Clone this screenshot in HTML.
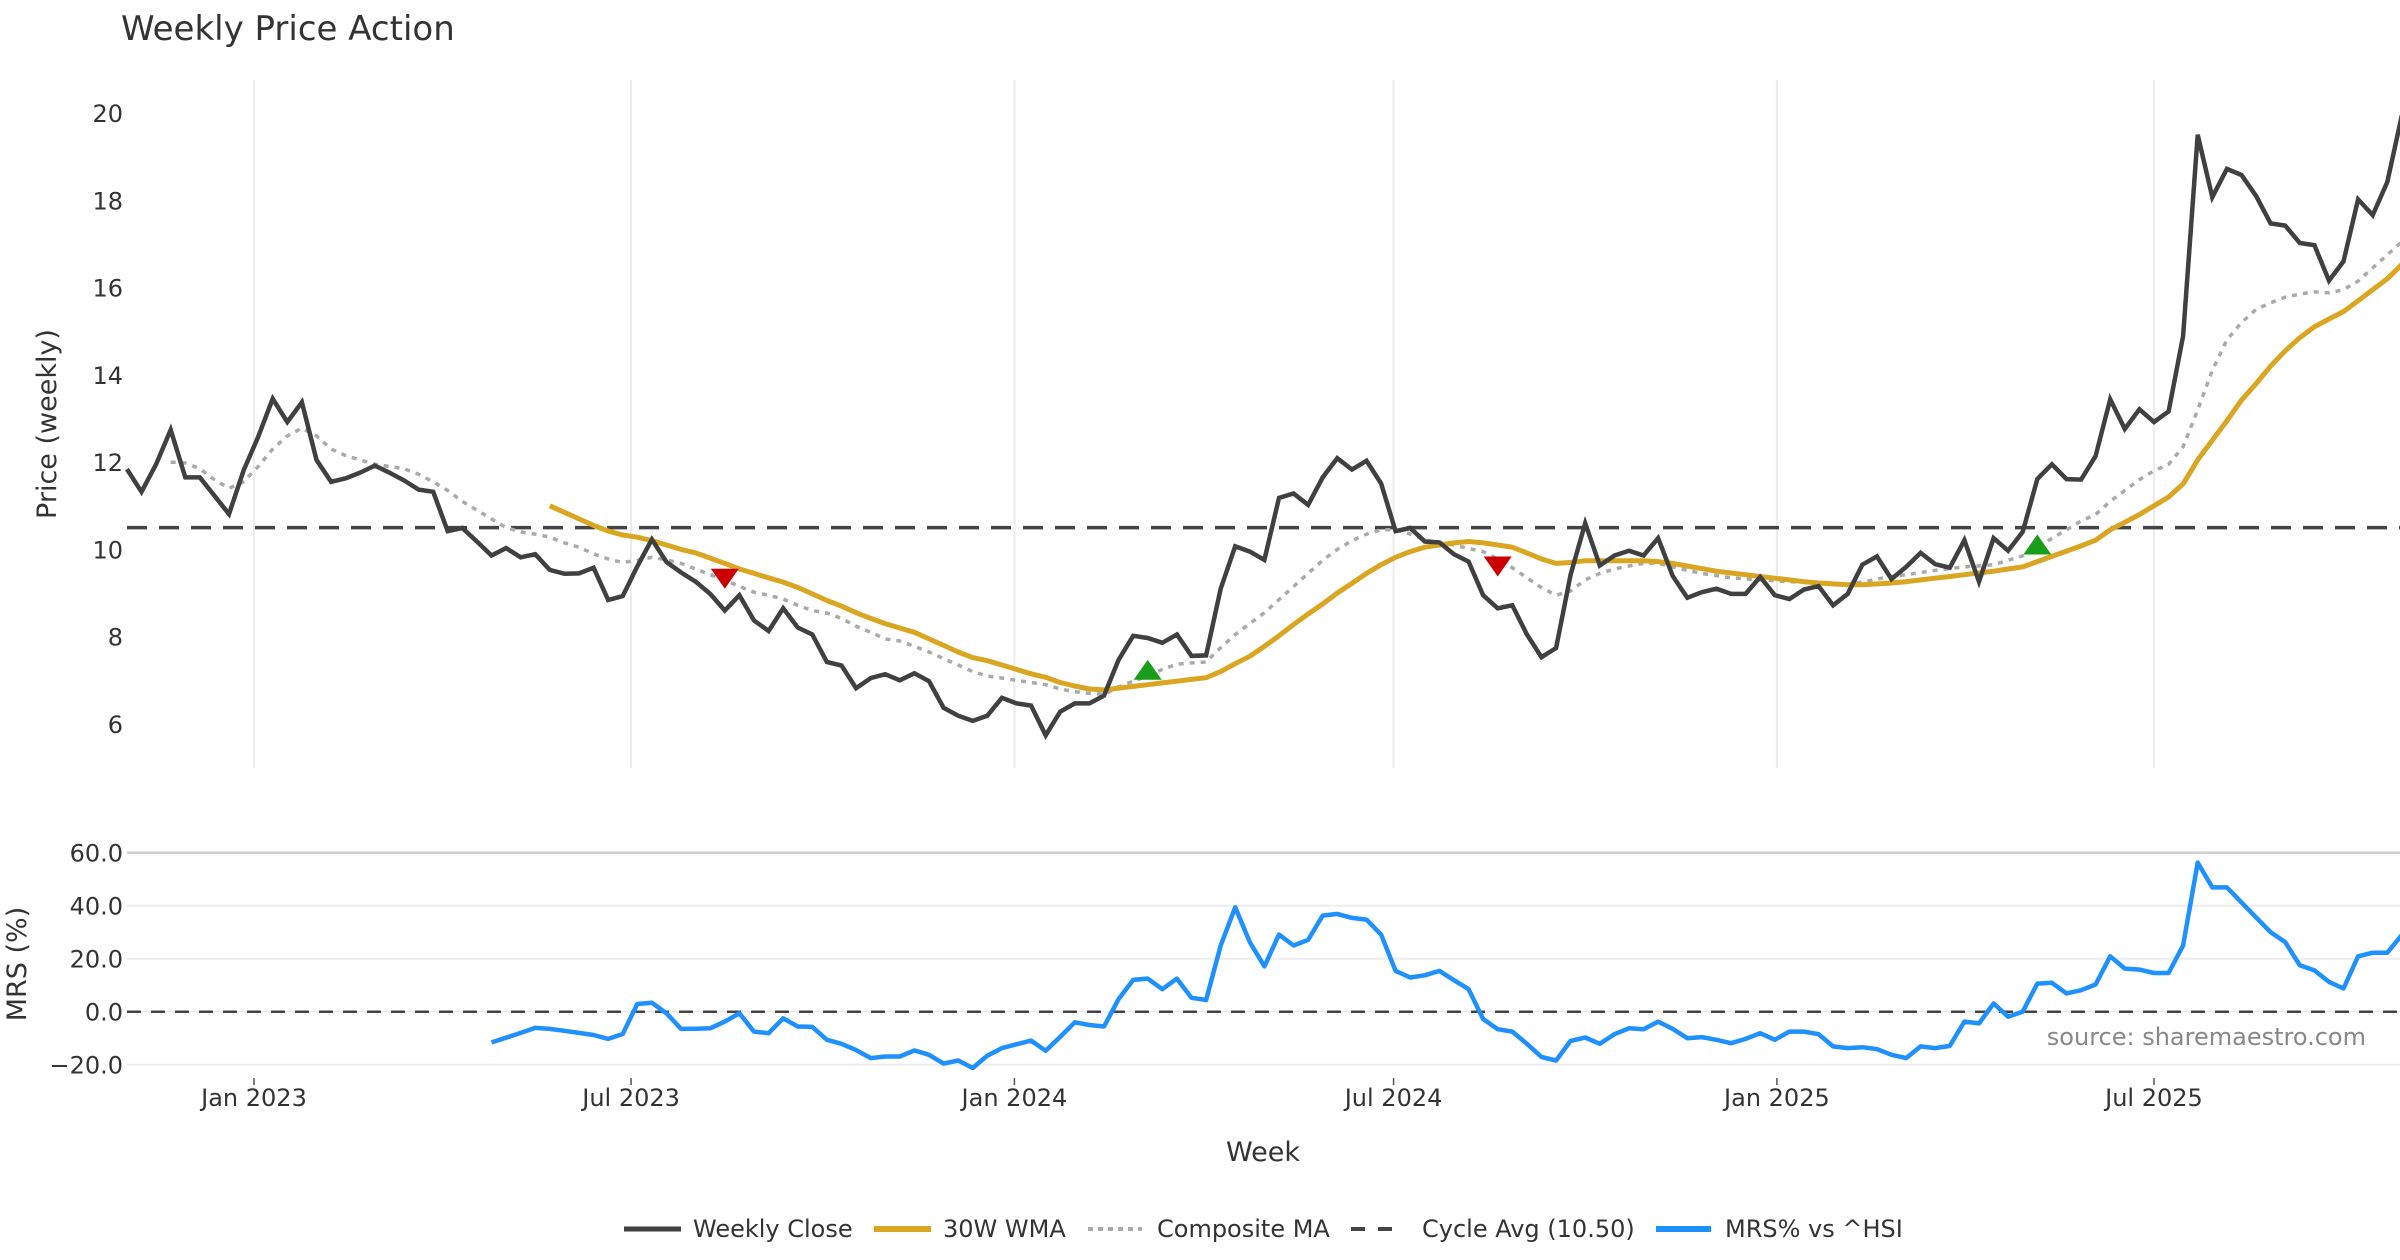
<!DOCTYPE html>
<html><head><meta charset="utf-8"><style>
html,body{margin:0;padding:0;background:#fff;}
svg{display:block;font-family:"DejaVu Sans","Liberation Sans",sans-serif;}
</style></head><body>
<svg id="chart" width="2400" height="1260" viewBox="0 0 2400 1260" xmlns="http://www.w3.org/2000/svg">
<text x="121" y="40" font-size="34" fill="#333">Weekly Price Action</text>
<g id="grid"></g><g id="series"></g><g id="axes"></g>
<text transform="translate(56,424) rotate(-90)" text-anchor="middle" font-size="27" fill="#333">Price (weekly)</text>
<text transform="translate(26,964) rotate(-90)" text-anchor="middle" font-size="27" fill="#333">MRS (%)</text>
<text x="1263" y="1161" text-anchor="middle" font-size="27" fill="#333">Week</text>
<text x="2366" y="1045" text-anchor="end" font-size="24" fill="#888">source: sharemaestro.com</text>
<g font-size="24" fill="#333">
 <g><line x1="624" y1="1229" x2="681" y2="1229" stroke="#404040" stroke-width="5"/><text x="693" y="1237">Weekly Close</text></g>
 <g><line x1="874" y1="1229" x2="931" y2="1229" stroke="#DAA520" stroke-width="6"/><text x="943" y="1237">30W WMA</text></g>
 <g><line x1="1088" y1="1229" x2="1142" y2="1229" stroke="#aaa" stroke-width="4" stroke-dasharray="5,5"/><text x="1157" y="1237">Composite MA</text></g>
 <g><line x1="1351" y1="1229" x2="1405" y2="1229" stroke="#444" stroke-width="4" stroke-dasharray="14,13"/><text x="1422" y="1237">Cycle Avg (10.50)</text></g>
 <g><line x1="1656" y1="1229" x2="1711" y2="1229" stroke="#1E90FF" stroke-width="6"/><text x="1725" y="1237">MRS% vs ^HSI</text></g>
</g>
</svg>
<script>
const startDate = '2022-11-01';
const closeValues = [11.84,11.32,11.95,12.74,11.65,11.65,11.23,10.81,11.81,12.58,13.45,12.92,13.37,12.05,11.55,11.63,11.76,11.92,11.76,11.58,11.37,11.32,10.42,10.49,10.18,9.86,10.03,9.82,9.89,9.53,9.44,9.45,9.58,8.84,8.93,9.61,10.23,9.71,9.47,9.26,8.98,8.6,8.95,8.37,8.13,8.65,8.21,8.05,7.42,7.34,6.82,7.05,7.14,7.0,
7.16,6.98,6.37,6.19,6.07,6.19,6.6,6.47,6.42,5.74,6.28,6.47,6.47,6.65,7.47,8.02,7.97,7.86,8.05,7.56,7.57,9.1,10.07,9.95,9.76,11.18,11.28,11.02,11.65,12.09,11.83,12.03,11.51,10.42,10.49,10.18,10.16,9.89,9.72,8.95,8.65,8.72,8.05,7.53,7.74,9.42,10.6,9.63,9.86,9.97,9.86,
10.26,9.39,8.89,9.02,9.1,8.98,8.98,9.37,8.95,8.86,9.08,9.16,8.72,8.98,9.65,9.84,9.32,9.6,9.92,9.66,9.58,10.21,9.26,10.26,9.97,10.4,11.61,11.95,11.61,11.6,12.14,13.44,12.76,13.21,12.92,13.16,14.89,19.5,18.07,18.72,18.58,18.1,17.47,17.42,17.02,16.97,16.16,16.6,18.02,17.66,18.42,19.95];
const wmaStart = 29;
const wmaValues = [11.0,10.85,10.7,10.55,10.42,10.33,10.28,10.2,10.1,10.0,9.92,9.8,9.68,9.55,9.45,9.35,9.25,9.13,8.98,8.83,8.7,8.55,8.42,8.3,8.2,8.1,7.95,7.8,7.65,7.52,7.45,7.35,7.25,7.15,7.07,6.95,6.87,6.8,6.78,6.82,6.86,6.9,6.94,6.98,7.02,7.06,7.2,7.38,7.55,7.78,8.02,8.28,8.52,8.75,9.0,9.22,9.45,9.65,9.82,9.95,10.05,10.1,10.15,10.18,10.15,10.1,10.05,9.92,9.78,9.68,9.7,9.74,9.74,9.74,9.74,9.74,9.72,9.68,9.62,9.56,9.5,9.46,9.42,9.38,9.34,9.3,9.26,9.23,9.21,9.19,9.19,9.21,9.23,9.26,9.3,9.34,9.38,9.42,9.46,9.5,9.55,9.6,9.72,9.84,9.96,10.08,10.21,10.45,10.62,10.8,11.0,11.2,11.5,12.05,12.5,12.95,13.42,13.8,14.2,14.55,14.85,15.1,15.28,15.45,15.7,15.95,16.2,16.53];
const compStart = 3;
const compValues = [12.0,11.98,11.85,11.6,11.4,11.55,11.9,12.3,12.6,12.78,12.6,12.3,12.15,12.05,11.95,11.9,11.85,11.72,11.55,11.35,11.1,10.9,10.7,10.5,10.4,10.35,10.28,10.15,10.05,9.9,9.78,9.7,9.75,9.82,9.76,9.68,9.55,9.42,9.3,9.15,9.02,8.95,8.86,8.72,8.6,8.54,8.42,8.24,8.1,7.95,7.9,7.78,7.65,7.5,7.35,7.2,7.1,7.05,7.0,6.95,6.9,6.8,6.74,6.7,6.68,6.85,6.98,7.1,7.25,7.37,7.4,7.42,7.75,8.05,8.3,8.55,8.85,9.15,9.45,9.75,10.0,10.2,10.35,10.45,10.45,10.35,10.22,10.15,10.1,10.02,9.95,9.78,9.58,9.35,9.12,8.95,9.05,9.3,9.45,9.55,9.62,9.68,9.68,9.6,9.52,9.45,9.4,9.35,9.32,9.3,9.28,9.26,9.25,9.23,9.22,9.2,9.25,9.32,9.38,9.42,9.47,9.52,9.56,9.6,9.62,9.65,9.75,9.85,10.05,10.25,10.45,10.65,10.8,11.1,11.35,11.6,11.8,11.95,12.35,13.2,14.1,14.8,15.2,15.5,15.65,15.78,15.85,15.9,15.88,15.95,16.15,16.45,16.75,17.05];
const cycleAvg = 10.5;
const mrsStart = 25;
const mrsValues = [-11.6,-9.8,-8,-6.1,-6.5,-7.2,-8.0,-8.8,-10.25,-8.4,2.9,3.4,-0.6,-6.5,-6.4,-6.25,-3.75,-0.6,-7.5,-8.1,-2.5,-5.6,-5.75,-10.6,-12.1,-14.5,-17.5,-16.9,-16.9,-14.6,-16.25,-19.6,-18.4,-21.25,-16.6,-13.75,-12.3,-10.9,-14.75,-9.5,-4,-5,-5.6,4.75,12,12.5,8.5,12.5,5.25,4.4,25,39.4,26.25,17.1,29.1,25,27.1,36.25,36.9,35.4,34.75,29.1,15.4,12.9,13.75,
15.4,11.9,8.5,-2.75,-6.6,-7.5,-12.1,-17.1,-18.4,-11,-9.75,-12.1,-8.5,-6.25,-6.6,-3.75,-6.5,-10,-9.6,-10.6,-11.9,-10.25,-8.1,-10.6,-7.5,-7.5,-8.5,-13.1,-13.75,-13.4,-14.1,-16.25,-17.5,-13.1,-13.75,-12.9,-3.75,-4.4,3.1,-1.9,0,10.6,10.9,6.9,8.1,10.25,20.9,16.25,15.9,14.6,14.6,25,56.25,46.9,46.9,41.25,35.6,30,26.25,17.5,15.6,11.25,8.75,20.9,22.25,22.25,29];
const sellIdx = [41, 94];
const sellPrice = [9.35, 9.63];
const buyIdx = [70, 131];
const buyPrice = [7.22, 10.09];
const priceTicks = [6, 8, 10, 12, 14, 16, 18, 20];
const mrsTicks = [-20, 0, 20, 40, 60];
const xTickLabels = ['Jan 2023','Jul 2023','Jan 2024','Jul 2024','Jan 2025','Jul 2025'];
const xTickDates = ['2023-01-01','2023-07-01','2024-01-01','2024-07-01','2025-01-01','2025-07-01'];

const NS = 'http://www.w3.org/2000/svg';
const DAY = 86400000;
const ORIGIN = Date.UTC(2023,0,1);
function parseD(s){const p=s.split('-');return Date.UTC(+p[0],+p[1]-1,+p[2]);}
const start = parseD(startDate);
function dateOf(i){return start + i*7*DAY;}
function xDate(t){return 254 + (t-ORIGIN)/DAY*2.0833;}
function xIdx(i){return xDate(dateOf(i));}
function yP(v){return 113 + (20 - v)*43.64;}
function yM(v){return 1011.7 - v*2.65;}
function mk(tag, attrs, parent){const e=document.createElementNS(NS,tag);for(const k in attrs)e.setAttribute(k,attrs[k]);parent.appendChild(e);return e;}
const grid=document.getElementById('grid'), series=document.getElementById('series'), axes=document.getElementById('axes');

// vertical grid
xTickDates.forEach((d,k)=>{
  const x=xDate(parseD(d));
  const g=mk('line',{x1:x,x2:x,y1:80,y2:768,stroke:'#ebebeb','stroke-width':2},grid);
  
  
  const tm=mk('line',{x1:x,x2:x,y1:1078,y2:1085,stroke:'#555','stroke-width':1.5},axes);
  
  
  const t=mk('text',{x:x,y:1106,'text-anchor':'middle','font-size':24,fill:'#333'},axes);
  t.textContent=xTickLabels[k];
  
  
});
priceTicks.forEach(v=>{
  const t=mk('text',{x:123,y:yP(v)+9,'text-anchor':'end','font-size':24,fill:'#333'},axes);
  t.textContent=String(v);
  
  
});
mrsTicks.forEach(v=>{
  const g=mk('line',{x1:127,x2:2400,y1:yM(v),y2:yM(v),stroke:v===60?'#cfcfcf':'#ededed','stroke-width':v===60?2.5:2},grid);
  
  
  const t=mk('text',{x:123,y:yM(v)+9,'text-anchor':'end','font-size':24,fill:'#333'},axes);
  t.textContent=(v<0?'\u2212'+Math.abs(v).toFixed(1):v.toFixed(1));
  
  
});
// zero line mrs
const z=mk('line',{x1:127,x2:2400,y1:yM(0),y2:yM(0),stroke:'#444','stroke-width':2.5,'stroke-dasharray':'14,10'},series);


// cycle avg
const cy=mk('line',{x1:127,x2:2400,y1:yP(cycleAvg),y2:yP(cycleAvg),stroke:'#444','stroke-width':3.5,'stroke-dasharray':'20,12'},series);



function path(vals, s0, yf){return vals.map((v,k)=>(k?'L':'M')+xIdx(s0+k).toFixed(1)+','+yf(v).toFixed(1)).join(' ');}
const comp=mk('path',{d:path(compValues,compStart,yP),fill:'none',stroke:'#aaa','stroke-width':3.5,'stroke-dasharray':'5,6'},series);


const wma=mk('path',{d:path(wmaValues,wmaStart,yP),fill:'none',stroke:'#DAA520','stroke-width':5,'stroke-linejoin':'round'},series);


const cl=mk('path',{d:path(closeValues,0,yP),fill:'none',stroke:'#404040','stroke-width':4.5,'stroke-linejoin':'miter'},series);


const mr=mk('path',{d:path(mrsValues,mrsStart,yM),fill:'none',stroke:'#1E90FF','stroke-width':4.5,'stroke-linejoin':'round'},series);


sellIdx.forEach((i,k)=>{
  const x=xIdx(i), y=yP(sellPrice[k]);
  const p=mk('polygon',{points:`${x-14},${y-9} ${x+14},${y-9} ${x},${y+11}`,fill:'#CC0000'},series);
  
  
});
buyIdx.forEach((i,k)=>{
  const x=xIdx(i), y=yP(buyPrice[k]);
  const p=mk('polygon',{points:`${x-14},${y+9} ${x+14},${y+9} ${x},${y-11}`,fill:'#1A9E1A'},series);
  
  
});
</script>
</body></html>
